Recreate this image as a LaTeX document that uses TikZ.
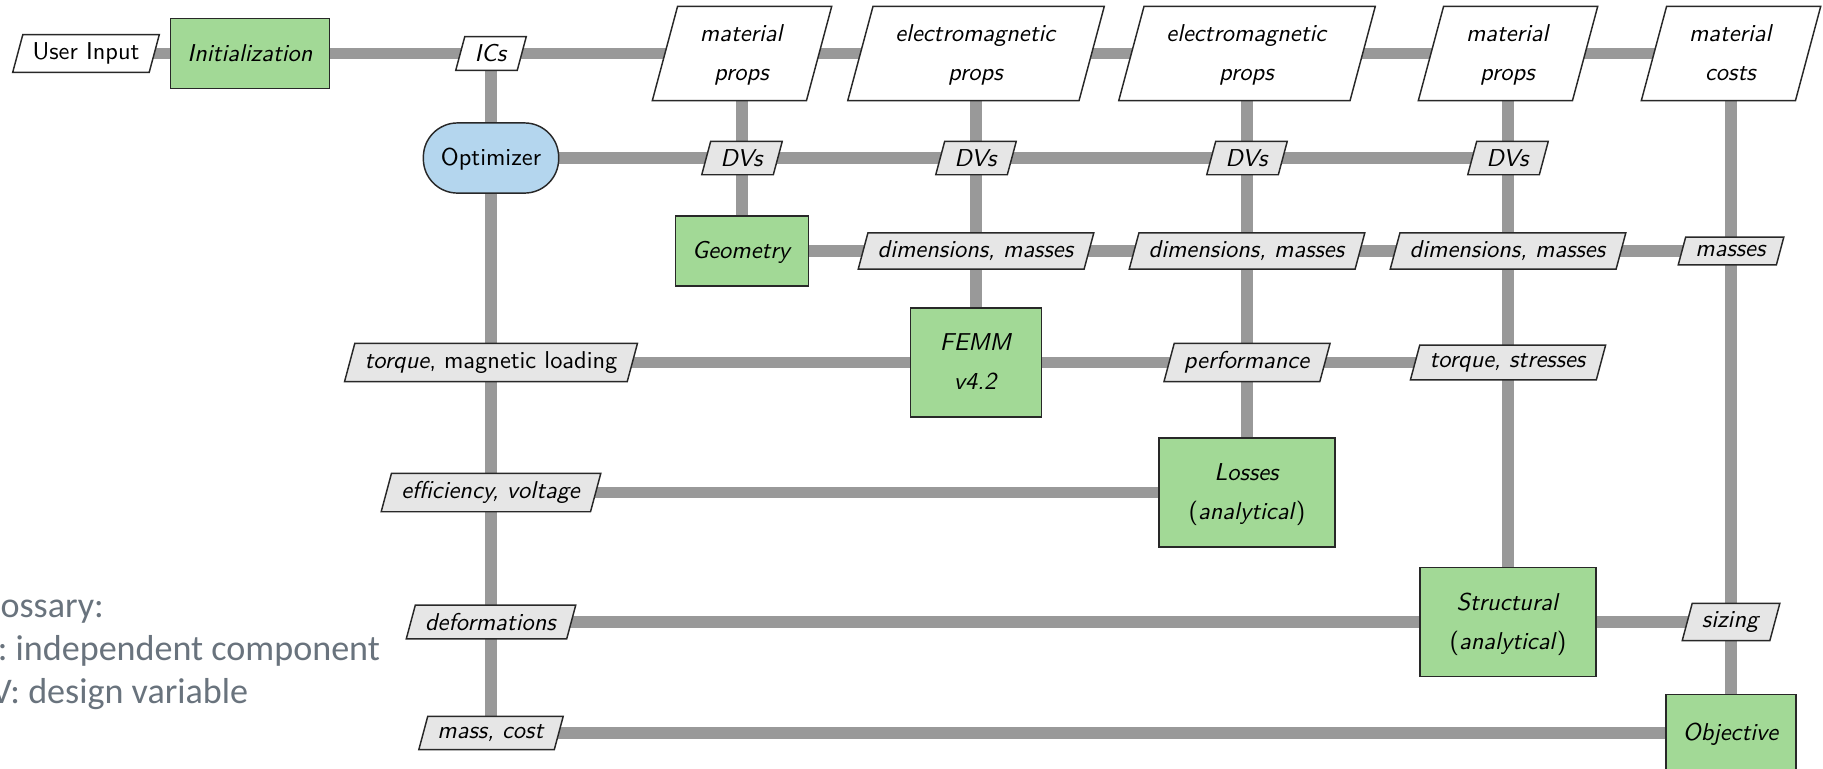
\documentclass[tikz,border=0pt]{standalone}
\usepackage{fontspec}
\newfontfamily\glossfont{Carlito}
\usetikzlibrary{shapes.geometric,backgrounds}
\definecolor{compgreen}{RGB}{162,217,150}
\definecolor{optblue}{RGB}{180,214,238}
\definecolor{datagray}{RGB}{230,230,230}
\definecolor{linegray}{RGB}{153,153,153}
\definecolor{glossgray}{RGB}{105,115,125}
\definecolor{edgecol}{RGB}{40,40,40}
\newcommand\cellA[1]{{\renewcommand\arraystretch{1.33}\begin{tabular}{@{}c@{}}#1\end{tabular}}}
\newcommand\cellB[1]{{\renewcommand\arraystretch{1.33}\setlength\tabcolsep{5.2pt}\begin{tabular}{c}#1\end{tabular}}}
\begin{document}
\begin{tikzpicture}[x=0.41pt,y=-0.41pt,font=\sffamily,
  comp/.style={draw=edgecol,line width=0.6pt,fill=compgreen,inner xsep=6.9pt,inner ysep=6.4pt},
  opt/.style={draw=edgecol,line width=0.6pt,fill=optblue,rounded corners=14pt,inner xsep=7.2pt,inner ysep=6.4pt},
  dat/.style={trapezium,trapezium left angle=75,trapezium right angle=105,draw=edgecol,line width=0.6pt,fill=datagray,inner xsep=4pt,inner ysep=3.33pt},
  inp/.style={dat,fill=white},
  flow/.style={linegray,line width=4.9pt},
  gloss/.style={anchor=base west,inner sep=0pt,text=glossgray,font=\glossfont\fontsize{14.8pt}{18pt}\selectfont}]
\useasboundingbox (0,0) rectangle (1823,768);

% row 1
\node[inp] (ui) at (86,53.5) {User Input};
\node[comp] (init) at (250,53.5) {\cellA{\textit{Initialization}}};
\node[inp] (ics) at (491,53.5) {\textit{ICs}};
\node[inp] (mp1) at (742,53.5) {\cellB{\textit{material}\\\textit{props}}};
\node[inp] (em1) at (976,53.5) {\cellB{\textit{electromagnetic}\\\textit{props}}};
\node[inp] (em2) at (1247,53.5) {\cellB{\textit{electromagnetic}\\\textit{props}}};
\node[inp] (mp2) at (1508,53.5) {\cellB{\textit{material}\\\textit{props}}};
\node[inp] (mc) at (1731,53.5) {\cellB{\textit{material}\\\textit{costs}}};

% row 2
\node[opt] (opt) at (491,158) {\cellA{Optimizer}};
\node[dat] (dv1) at (742,158) {\textit{DVs}};
\node[dat] (dv2) at (976,158) {\textit{DVs}};
\node[dat] (dv3) at (1247,158) {\textit{DVs}};
\node[dat] (dv4) at (1508,158) {\textit{DVs}};

% row 3
\node[comp] (geo) at (742,251) {\cellA{\textit{Geometry}}};
\node[dat] (dm1) at (976,251) {\textit{dimensions, masses}};
\node[dat] (dm2) at (1247,251) {\textit{dimensions, masses}};
\node[dat] (dm3) at (1508,251) {\textit{dimensions, masses}};
\node[dat] (ms) at (1731,251) {\textit{masses}};

% row 4
\node[dat] (tml) at (491,362.5) {\textit{torque}, magnetic loading};
\node[comp] (femm) at (976,362.5) {\cellB{\textit{FEMM}\\\textit{v4.2}}};
\node[dat] (perf) at (1247,362.5) {\textit{performance}};
\node[dat] (tst) at (1508,362.5) {\textit{torque, stresses}};

% row 5
\node[dat] (effv) at (491,492.5) {\textit{efficiency, voltage}};
\node[comp] (loss) at (1247,492.5) {\cellB{\textit{Losses}\\(\textit{analytical})}};

% row 6
\node[dat] (defo) at (491,622) {\textit{deformations}};
\node[comp] (struc) at (1508,622) {\cellB{\textit{Structural}\\(\textit{analytical})}};
\node[dat] (siz) at (1731,622) {\textit{sizing}};

% row 7
\node[dat] (mcost) at (491,733) {\textit{mass, cost}};
\node[comp,minimum height=31.5pt] (obj) at (1731,733) {\cellA{\textit{Objective}}};

% glossary
\node[gloss] (g1) at (-31,617) {Glossary:};
\node[gloss] (g2) at (-31,660) {IC: independent component};
\node[gloss] (g3) at (-31,703) {DV: design variable};

\begin{pgfonlayer}{background}
% horizontal
\draw[flow] (ui.center) -- (init.center) -- (ics.center) -- (mp1.center) -- (em1.center) -- (em2.center) -- (mp2.center) -- (mc.center);
\draw[flow] (opt.center) -- (dv1.center) -- (dv2.center) -- (dv3.center) -- (dv4.center);
\draw[flow] (geo.center) -- (dm1.center) -- (dm2.center) -- (dm3.center) -- (ms.center);
\draw[flow] (tml.center) -- (femm.center) -- (perf.center) -- (tst.center);
\draw[flow] (effv.center) -- (loss.center);
\draw[flow] (defo.center) -- (struc.center) -- (siz.center);
\draw[flow] (mcost.center) -- (obj.center);
% vertical
\draw[flow] (ics.center) -- (opt.center) -- (tml.center) -- (effv.center) -- (defo.center) -- (mcost.center);
\draw[flow] (mp1.center) -- (dv1.center) -- (geo.center);
\draw[flow] (em1.center) -- (dv2.center) -- (dm1.center) -- (femm.center);
\draw[flow] (em2.center) -- (dv3.center) -- (dm2.center) -- (perf.center) -- (loss.center);
\draw[flow] (mp2.center) -- (dv4.center) -- (dm3.center) -- (tst.center) -- (struc.center);
\draw[flow] (mc.center) -- (ms.center) -- (siz.center) -- (obj.center);
\end{pgfonlayer}
\end{tikzpicture}
\end{document}
